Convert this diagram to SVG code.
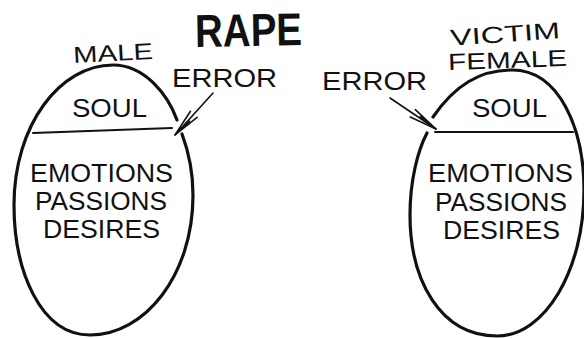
<svg xmlns="http://www.w3.org/2000/svg" width="584" height="338" viewBox="0 0 584 338">
<defs>
<style>
.oval{fill:none;stroke:#111;stroke-width:3.2;stroke-linecap:round;stroke-linejoin:round}
.div{fill:none;stroke:#111;stroke-width:2;stroke-linecap:round}
.arr{fill:none;stroke:#111;stroke-width:1.6;stroke-linecap:round}
.t{font-family:"Liberation Sans","DejaVu Sans",sans-serif;fill:#111;font-size:26px}
.s{font-size:23px}
.big{font-weight:bold;font-size:46px}
</style>
<marker id="ah" viewBox="-30 -8 32 16" refX="0" refY="0" markerWidth="32" markerHeight="16" markerUnits="userSpaceOnUse" orient="auto">
<path d="M-28,-4.5 L0,0 L-28,4.5 M-20,-1.5 L0,0" fill="none" stroke="#111" stroke-width="1.6" stroke-linecap="round"/>
</marker>
</defs>
<rect width="584" height="338" fill="#fff"/>
<g id="title">
<text class="t big" x="195" y="46" textLength="107" lengthAdjust="spacingAndGlyphs" transform="rotate(-1 248 30)">RAPE</text>
</g>
<g id="male">
<path class="oval" d="M182,134 C188,150 193,170 193,195 C193,275 145,335 90,335 C40,335 14,270 14,205 C14,125 60,65 113,65 C145,65 168,95 177,120"/>
<line class="div" x1="33" y1="133" x2="172" y2="128"/>
<text class="t s" x="73" y="61" textLength="80" lengthAdjust="spacingAndGlyphs" transform="rotate(-3 113 52)">MALE</text>
<text class="t" x="72" y="117" textLength="75" lengthAdjust="spacingAndGlyphs">SOUL</text>
<text class="t" x="30" y="182" textLength="143" lengthAdjust="spacingAndGlyphs">EMOTIONS</text>
<text class="t" x="35" y="210" textLength="132" lengthAdjust="spacingAndGlyphs">PASSIONS</text>
<text class="t" x="43" y="238" textLength="117" lengthAdjust="spacingAndGlyphs">DESIRES</text>
</g>
<g id="female">
<path class="oval" d="M433,117 C455,85 480,70 512,70 C560,70 584,130 584,190 C584,270 545,336 497,336 C440,336 410,280 410,215 C410,180 418,150 427,133"/>
<line class="div" x1="435" y1="132" x2="573" y2="132"/>
<text class="t s" x="450" y="42" textLength="110" lengthAdjust="spacingAndGlyphs" transform="rotate(-4 505 33)">VICTIM</text>
<text class="t s" x="448" y="68" textLength="119" lengthAdjust="spacingAndGlyphs" transform="rotate(-2 507 59)">FEMALE</text>
<text class="t" x="472" y="117" textLength="75" lengthAdjust="spacingAndGlyphs">SOUL</text>
<text class="t" x="428" y="182" textLength="145" lengthAdjust="spacingAndGlyphs">EMOTIONS</text>
<text class="t" x="435" y="211" textLength="132" lengthAdjust="spacingAndGlyphs">PASSIONS</text>
<text class="t" x="443" y="239" textLength="117" lengthAdjust="spacingAndGlyphs">DESIRES</text>
</g>
<g id="connectors">
<g id="error-left">
<text class="t" x="172" y="87" textLength="105" lengthAdjust="spacingAndGlyphs">ERROR</text>
<line class="arr" x1="213" y1="93" x2="175" y2="135" marker-end="url(#ah)"/>
</g>
<g id="error-right">
<text class="t" x="322" y="90" textLength="105" lengthAdjust="spacingAndGlyphs">ERROR</text>
<line class="arr" x1="390" y1="98" x2="436" y2="129" marker-end="url(#ah)"/>
</g>
</g>
</svg>
